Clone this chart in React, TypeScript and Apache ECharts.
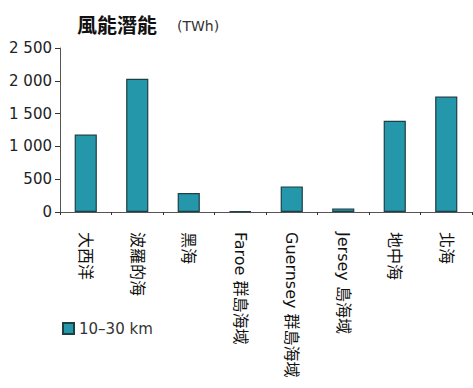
import React, { useEffect, useRef } from "react";
import * as echarts from "echarts";

const categories = [
  "大西洋",
  "波羅的海",
  "黑海",
  "Faroe 群島海域",
  "Guernsey 群島海域",
  "Jersey 島海域",
  "地中海",
  "北海",
];
const seriesName = "10–30 km";
const values = [1180, 2030, 290, 10, 390, 55, 1390, 1760];
const yTicks = { min: 0, max: 2500, interval: 500 };

function fmt(v: number): string {
  return String(v).replace(/\B(?=(\d{3})+(?!\d))/g, " ");
}

export default function App() {
  const ref = useRef<HTMLDivElement>(null);
  useEffect(() => {
    if (!ref.current) return;
    const chart = echarts.init(ref.current, null, { renderer: "svg" });
    chart.setOption({
      animation: false,
      backgroundColor: "#ffffff",
      title: {
        text: "{a|風能潛能}{s|}{b|(TWh)}",
        left: 72,
        top: 9,
        textStyle: {
          rich: {
            a: { fontSize: 20, fontWeight: "bold", color: "#111", fontFamily: "Noto Sans CJK TC" },
            s: { width: 20 },
            b: { fontSize: 14, fontWeight: "normal", color: "#333", fontFamily: "DejaVu Sans", padding: [4, 0, 0, 0] },
          },
        },
      },
      legend: {
        left: 57,
        top: 316,
        itemWidth: 11,
        itemHeight: 11,
        itemGap: 6,
        textStyle: { fontSize: 15, color: "#333", fontFamily: "DejaVu Sans" },
        data: [{ name: seriesName, icon: "rect" }],
      },
      grid: { left: 60, right: 1, top: 48, bottom: 176, containLabel: false },
      xAxis: {
        type: "category",
        data: categories,
        axisLine: { lineStyle: { color: "#555", width: 1 } },
        axisTick: { show: true, length: 3, lineStyle: { color: "#333" } },
        axisLabel: {
          rotate: -90,
          margin: 20,
          fontSize: 16,
          color: "#111",
          fontFamily: "DejaVu Sans, Noto Sans CJK TC",
          interval: 0,
        },
      },
      yAxis: {
        type: "value",
        min: yTicks.min,
        max: yTicks.max,
        interval: yTicks.interval,
        splitLine: { show: false },
        axisLine: { show: true, lineStyle: { color: "#555" } },
        axisTick: { show: true, length: 5, lineStyle: { color: "#333" } },
        axisLabel: {
          margin: 8,
          fontSize: 15,
          color: "#222",
          fontFamily: "DejaVu Sans",
          formatter: (v: number) => fmt(v),
        },
      },
      series: [
        {
          name: seriesName,
          type: "bar",
          data: values,
          barWidth: "43%",
          itemStyle: { color: "#2497aa", borderColor: "#1d3f46", borderWidth: 1.2 },
        },
      ],
    });
    return () => chart.dispose();
  }, []);
  return <div ref={ref} style={{ width: 473, height: 388, position: "absolute", left: 0, top: 0 }} />;
}
